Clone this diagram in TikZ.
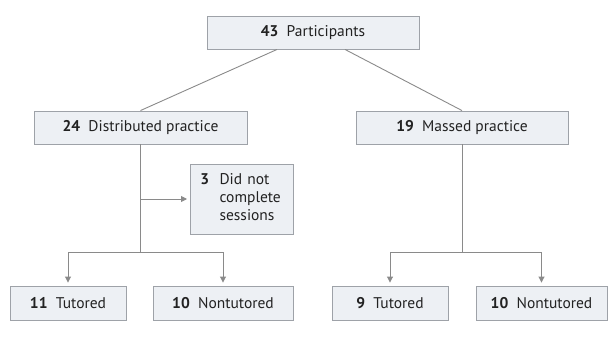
\documentclass[tikz,border=0pt]{standalone}
\usepackage{fontspec}
\setmainfont{PT Sans}
\usetikzlibrary{arrows.meta}
\definecolor{boxfill}{HTML}{EDF0F4}
\definecolor{boxline}{HTML}{9EA2A8}
\definecolor{wire}{HTML}{8A8A8A}
\definecolor{ink}{HTML}{222222}
\tikzset{
box/.style={draw=boxline, fill=boxfill, line width=0.9pt, inner sep=0pt, text=ink, font=\fontsize{15.5}{18}\selectfont},
wire/.style={draw=wire, line width=0.9pt},
flow/.style={wire, -{Triangle[width=6pt,length=6pt]}, shorten >=3pt}}

\begin{document}
\begin{tikzpicture}[x=1pt, y=-1pt]
    \useasboundingbox (0,0) rectangle (608,337);

                \node[box, minimum width=212pt, minimum height=33pt] (total) at (313,32.5) {\textbf{43}\ \ Participants};
                \node[box, minimum width=213pt, minimum height=33pt] (dist) at (140.5,127.5) {\textbf{24}\ \ Distributed practice};
                \node[box, minimum width=212pt, minimum height=33pt] (massed) at (462,127.5) {\textbf{19}\ \ Massed practice};
                \node[box, text width=83pt, inner xsep=10pt, align=left, minimum height=70pt, anchor=west] (dnc) at (190,199) {\begin{tabular}{@{}l@{\ \ }l@{}}\textbf{3} & Did not\\ & complete\\ & sessions\end{tabular}};
                \node[box, minimum width=116pt, minimum height=34pt] (distT) at (68,303) {\textbf{11}\ \ Tutored};
                \node[box, minimum width=140pt, minimum height=34pt] (distN) at (223,303) {\textbf{10}\ \ Nontutored};
                \node[box, minimum width=116pt, minimum height=34pt] (massT) at (390,303) {\textbf{9}\ \ Tutored};
                \node[box, minimum width=131pt, minimum height=34pt] (massN) at (541.5,303) {\textbf{10}\ \ Nontutored};

                \coordinate (dsplit) at (140.5,252);
                \coordinate (msplit) at (462,252);

                \draw[wire] ([xshift=-36pt]total.south) -- (dist.north);
                \draw[wire] ([xshift=32pt]total.south) -- (massed.north);
                \draw[wire] (dist.south) -- (dsplit);
                \draw[flow] (dist.south |- dnc.west) -- (dnc.west);
                \draw[flow] (dsplit) -| (distT.north);
                \draw[flow] (dsplit) -| (distN.north);
                \draw[wire] (massed.south) -- (msplit);
                \draw[flow] (msplit) -| (massT.north);
                \draw[flow] (msplit) -| (massN.north);

            \end{tikzpicture}
\end{document}
